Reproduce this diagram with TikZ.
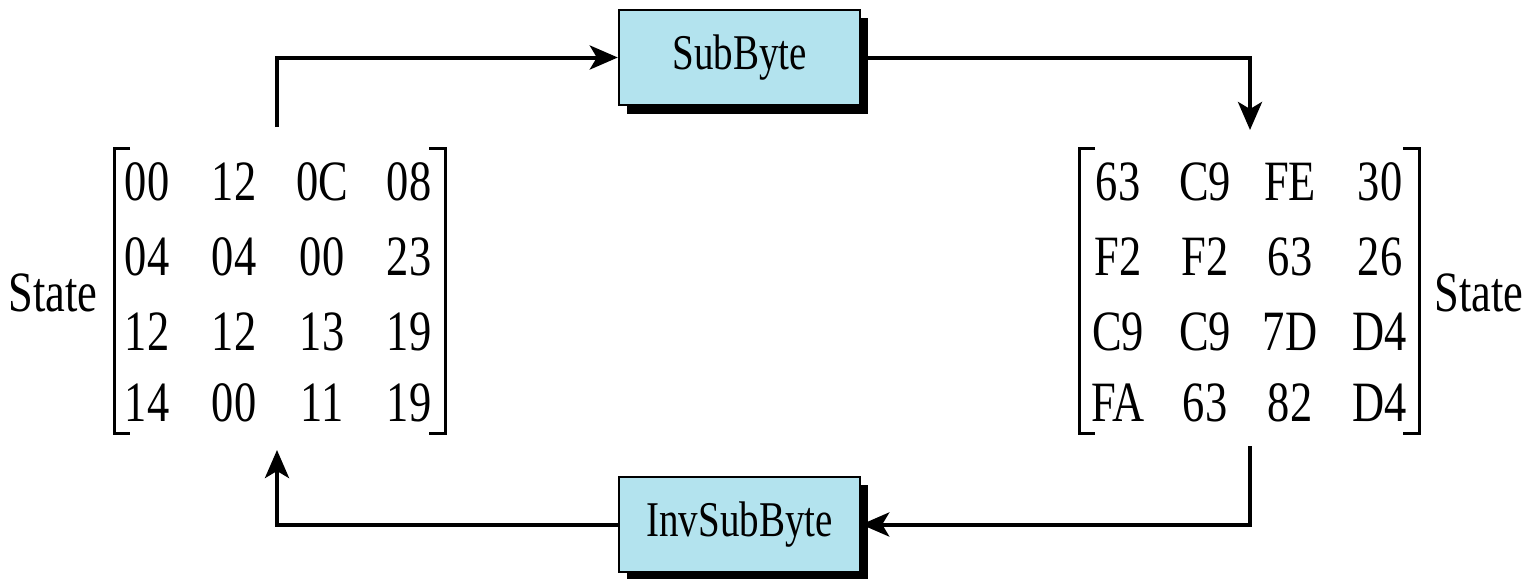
\documentclass[tikz,border=0pt]{standalone}
\usepackage{fontspec}
\setmainfont[FakeStretch=0.78]{Liberation Serif}
\usetikzlibrary{arrows.meta}
\definecolor{boxblue}{HTML}{B3E3EE}
\tikzset{
  flow/.style={line width=2pt, -{Stealth[length=14pt,width=12pt,inset=3.5pt]}},
  opbox/.style={draw=black, line width=1.2pt, fill=boxblue, minimum width=120.5pt,
    minimum height=47.5pt, inner sep=0pt, font=\fontsize{25}{30}\selectfont},
  entry/.style={inner sep=0pt, font=\fontsize{28.5}{34}\selectfont},
  brk/.style={line width=1.5pt},
  shadowbox/.style={fill=black}
}
\begin{document}
\begin{tikzpicture}[x=0.5pt,y=-0.5pt]
\useasboundingbox (0,0) rectangle (1534,579);

% operation boxes with drop shadows
\fill[shadowbox] (627,18) rectangle (868,114);
\node[opbox] (sub) at (739.5,57.5) {SubByte};
\fill[shadowbox] (627,485) rectangle (868,579);
\node[opbox] (inv) at (739.5,524.5) {InvSubByte};

% left state matrix
\draw[brk] (130,148) -- (114,148) -- (114,433) -- (130,433);
\draw[brk] (429,148) -- (445,148) -- (445,433) -- (429,433);
\foreach \a/\b/\c/\d/\y/\r in {00/12/0C/08/182/1,04/04/00/23/257/2,12/12/13/19/332/3,14/00/11/19/403/4}{
  \node[entry] (l\r a) at (147,\y) {\a};
  \node[entry] (l\r b) at (234,\y) {\b};
  \node[entry] (l\r c) at (322,\y) {\c};
  \node[entry] (l\r d) at (409,\y) {\d};
}
\node[entry] (lstate) at (53,293) {State};

% right state matrix
\draw[brk] (1095,148) -- (1079,148) -- (1079,433) -- (1095,433);
\draw[brk] (1403,148) -- (1419,148) -- (1419,433) -- (1403,433);
\foreach \a/\b/\c/\d/\y/\r in {63/C9/FE/30/182/1,F2/F2/63/26/257/2,C9/C9/7D/D4/332/3,FA/63/82/D4/403/4}{
  \node[entry] (r\r a) at (1118,\y) {\a};
  \node[entry] (r\r b) at (1205,\y) {\b};
  \node[entry] (r\r c) at (1290,\y) {\c};
  \node[entry] (r\r d) at (1380,\y) {\d};
}
\node[entry] (rstate) at (1479,293) {State};

% connector end points at the matrices
\coordinate (ltop) at (277,127);
\coordinate (rtop) at (1250,130);
\coordinate (rbot) at (1250,446);
\coordinate (lbot) at (277,450);

% forward and inverse transformation paths
\draw[flow] (ltop) |- (sub.west);
\draw[flow] (sub.east) -| (rtop);
\draw[flow] (rbot) |- (inv.east);
\draw[flow] (inv.west) -| (lbot);
\end{tikzpicture}
\end{document}
